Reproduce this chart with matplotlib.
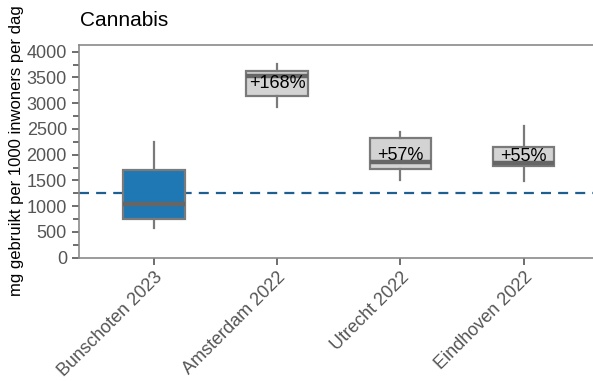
import matplotlib
matplotlib.use("Agg")
import matplotlib.pyplot as plt

plt.rcParams["font.family"] = ["Liberation Sans", "DejaVu Sans"]

# Wastewater cannabis load per site (mg per 1000 inhabitants per day)
sites = ["Bunschoten 2023", "Amsterdam 2022", "Utrecht 2022", "Eindhoven 2022"]
whis_lo = [577, 2920, 1509, 1495]
q1 = [751, 3140, 1716, 1780]
medians = [1043, 3528, 1858, 1833]
q3 = [1703, 3625, 2318, 2144]
whis_hi = [2247, 3755, 2447, 2563]
means = [1262, 3385, 1985, 1958]
y_ticks = [0, 500, 1000, 1500, 2000, 2500, 3000, 3500, 4000]

baseline = means[0]

fig = plt.figure(figsize=(5.93, 3.81), dpi=100)
ax = fig.add_axes([0.1327, 0.3236, 0.8673, 0.5596])

stats = []
for i, name in enumerate(sites):
    stats.append(dict(label=name, whislo=whis_lo[i], q1=q1[i], med=medians[i],
                      q3=q3[i], whishi=whis_hi[i], fliers=[]))

positions = list(range(len(sites)))
edge = "#7a7a7a"
bp = ax.bxp(stats, positions=positions, widths=0.5, patch_artist=True,
            showcaps=False, showfliers=False,
            boxprops=dict(edgecolor=edge, linewidth=1.6),
            whiskerprops=dict(color=edge, linewidth=1.6),
            medianprops=dict(color="#666666", linewidth=3.2))
for i, box in enumerate(bp["boxes"]):
    box.set_facecolor("#1f77b4" if i == 0 else "#d3d3d3")

# Reference level: Bunschoten mean
ax.axhline(baseline, color="#1f5f8f", linestyle=(0, (4.5, 3.2)), linewidth=1.6, zorder=1)

# Percentage difference of each city's mean versus the reference level
for i in range(1, len(sites)):
    pct = round((means[i] / baseline - 1) * 100)
    ax.text(positions[i], means[i], f"+{pct}%", ha="center", va="center",
            fontsize=13, color="black", zorder=5)

ax.set_xlim(-0.611, 3.563)
ax.set_ylim(0, 4140)
ax.set_yticks(y_ticks)
ax.set_yticks([v + 250 for v in y_ticks[:-1]], minor=True)
ax.set_xticks(positions)
ax.set_xticklabels(sites, rotation=45, ha="right", rotation_mode="anchor")

for side in ["left", "bottom", "top"]:
    ax.spines[side].set_color("#8a8a8a")
    ax.spines[side].set_linewidth(1.2)
ax.spines["right"].set_visible(False)

ax.tick_params(axis="both", which="major", length=5, width=1.2, color="#555555",
               labelsize=13, labelcolor="#555555")
ax.tick_params(axis="y", which="minor", length=4, width=1.2, color="#555555")
ax.tick_params(axis="x", pad=3)

fig.text(80 / 593, 1 - 26 / 381, "Cannabis", fontsize=15, color="black",
         ha="left", va="baseline")
fig.text(17 / 593, 1 - 151 / 381, "mg gebruikt per 1000 inwoners per dag",
         rotation=90, fontsize=12, color="black", ha="center", va="center")

fig.savefig("out.png", dpi=100)
